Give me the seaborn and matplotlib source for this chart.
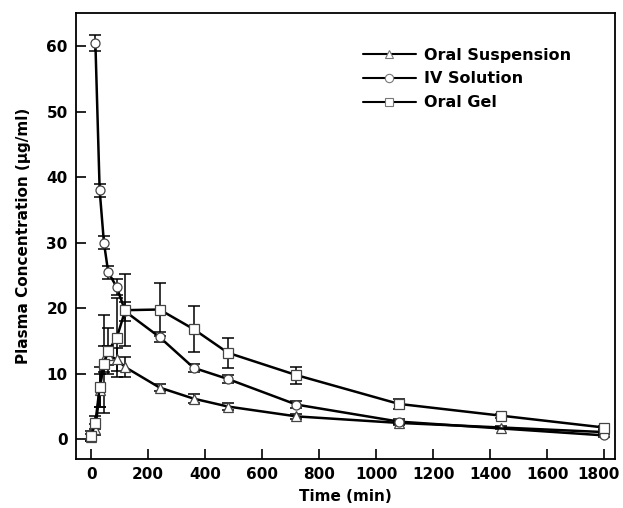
import matplotlib
matplotlib.use("Agg")
import matplotlib.pyplot as plt
import matplotlib.transforms as mtransforms
from matplotlib.lines import Line2D
import seaborn as sns
import pandas as pd
import numpy as np

# ---- data ----
susp_t = [0, 15, 30, 45, 60, 90, 120, 240, 360, 480, 720, 1080, 1440, 1800]
susp_y = [0.3, 1.5, 7.5, 12.2, 12.8, 12.2, 11.0, 7.9, 6.2, 5.0, 3.5, 2.5, 1.8, 1.1]
susp_e = [0.5, 0.8, 2.5, 2.0, 1.5, 1.8, 1.5, 0.5, 0.7, 0.6, 0.4, 0.3, 0.3, 0.3]

iv_t = [15, 30, 45, 60, 90, 120, 240, 360, 480, 720, 1080, 1800]
iv_y = [60.5, 38.0, 30.0, 25.5, 23.2, 19.5, 15.6, 10.9, 9.2, 5.3, 2.7, 0.6]
iv_e = [1.2, 1.0, 1.0, 1.0, 1.2, 1.5, 0.8, 0.6, 0.6, 0.5, 0.4, 0.3]

gel_t = [0, 15, 30, 45, 60, 90, 120, 240, 360, 480, 720, 1080, 1440, 1800]
gel_y = [0.5, 2.5, 8.0, 11.5, 13.5, 15.5, 19.7, 19.8, 16.8, 13.2, 9.8, 5.4, 3.6, 1.8]
gel_e = [0.8, 1.0, 3.0, 7.5, 3.5, 6.0, 5.5, 4.0, 3.5, 2.3, 1.3, 0.7, 0.3, 0.3]

labels = ["Oral Suspension", "IV Solution", "Oral Gel"]
markers = ["^", "o", "s"]

xticks = [0, 200, 400, 600, 800, 1000, 1200, 1400, 1600, 1800]
yticks = [0, 10, 20, 30, 40, 50, 60]

sns.set_style("ticks")
plt.rcParams['font.family'] = ['DejaVu Sans']
plt.rcParams['font.weight'] = 'bold'
plt.rcParams['text.color'] = 'black'
plt.rcParams['axes.labelcolor'] = 'black'
plt.rcParams['xtick.color'] = 'black'
plt.rcParams['ytick.color'] = 'black'

fig = plt.figure(figsize=(6.23, 5.08), dpi=100)
ax = fig.add_axes([0.122, 0.0965, 0.865, 0.8775])

series = [(susp_t, susp_y, susp_e), (iv_t, iv_y, iv_e), (gel_t, gel_y, gel_e)]
for (t, y, e), lab, m in zip(series, labels, markers):
    df = pd.DataFrame({"Time": t, "Conc": y})
    ax.errorbar(t, y, yerr=e, fmt='none', ecolor='black', elinewidth=1.1,
                capsize=4, capthick=1.1, zorder=2)
    sns.lineplot(data=df, x="Time", y="Conc", ax=ax, color='black', lw=1.8,
                 marker=m, markersize=6.5, markerfacecolor='white',
                 markeredgecolor='#444444', markeredgewidth=0.9,
                 legend=False, zorder=3)

ax.set_xlim(-53, 1838)
ax.set_ylim(-3, 65)
ax.set_xticks(xticks)
ax.set_yticks(yticks)
ax.tick_params(direction='in', length=7, width=1.2, labelsize=11, pad=6,
               top=False, right=False, colors='black')
for lbl in ax.get_xticklabels() + ax.get_yticklabels():
    lbl.set_fontweight('bold')
# nudge the last x tick label left so it stays inside the figure
last = ax.get_xticklabels()[-1]
last.set_transform(last.get_transform() +
                   mtransforms.ScaledTranslation(-6 / 100, 0, fig.dpi_scale_trans))
for sp in ax.spines.values():
    sp.set_visible(True)
    sp.set_linewidth(1.3)
    sp.set_color('black')

ax.set_xlabel("Time (min)", fontsize=11, fontweight='bold', labelpad=5,
              color='black')
ax.set_ylabel("Plasma Concentration (\u03bcg/ml)", fontsize=11,
              fontweight='bold', labelpad=11, color='black')

handles = [Line2D([], [], color='black', lw=1.5, marker=m, markersize=6,
                  markerfacecolor='white', markeredgecolor='#777777',
                  markeredgewidth=0.8) for m in markers]
leg = ax.legend(handles, labels, loc='upper right', frameon=False,
                handlelength=3.3, numpoints=1, fontsize=11.5,
                bbox_to_anchor=(0.945, 0.955), labelspacing=0.55,
                handletextpad=0.5)
for txt in leg.get_texts():
    txt.set_fontweight('bold')
    txt.set_color('black')

fig.savefig("out.png", dpi=100)
